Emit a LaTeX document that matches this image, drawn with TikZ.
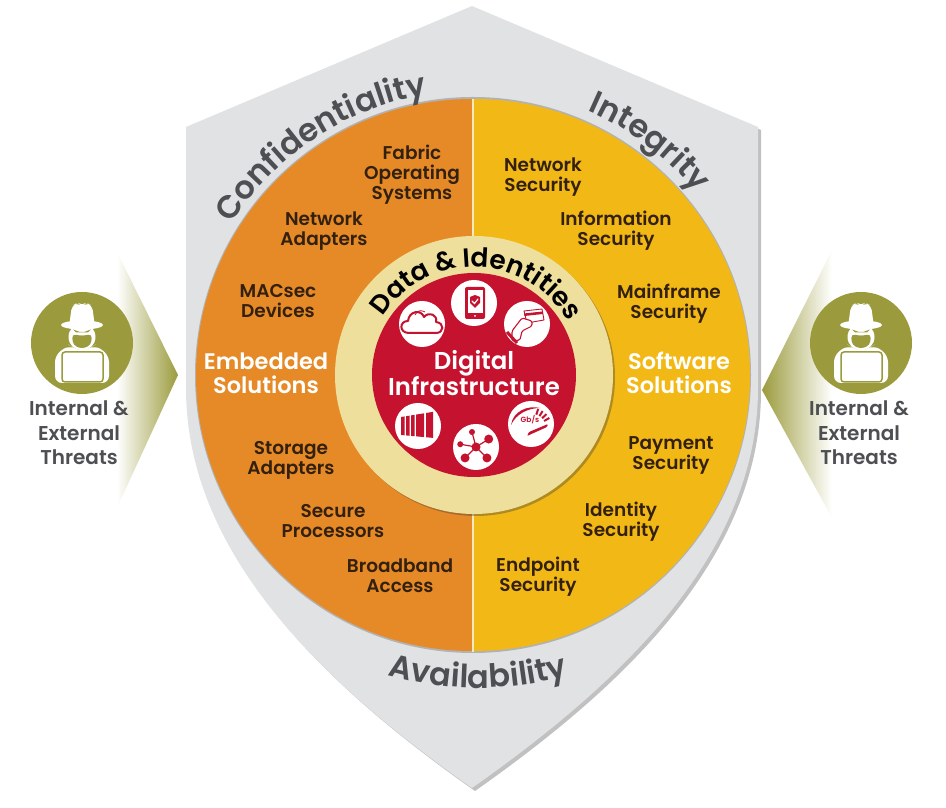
\documentclass[tikz,border=0pt]{standalone}
\usepackage{fontspec}
\setmainfont{Poppins}[UprightFont=* Medium,BoldFont=* SemiBold]
\usetikzlibrary{decorations.text,shadows}

\definecolor{shieldgray}{HTML}{E1E2E4}
\definecolor{sidetext}{HTML}{4D4F53}
\definecolor{orangehalf}{HTML}{E58A27}
\definecolor{yellowhalf}{HTML}{F2B916}
\definecolor{beigering}{HTML}{EFDF9C}
\definecolor{corered}{HTML}{C4122F}
\definecolor{threatolive}{HTML}{9B9B3D}
\definecolor{labeldark}{HTML}{33200F}

\newcommand{\wordfont}{\bfseries\fontsize{32}{32}\selectfont}
\newcommand{\availfont}{\bfseries\fontsize{32}{32}\selectfont}
\newcommand{\datafont}{\bfseries\fontsize{26.4}{26.4}\selectfont}

\tikzset{
  lbl/.style={align=center, text=labeldark, font=\bfseries\fontsize{18.5}{20}\selectfont, inner sep=0pt},
  sollbl/.style={align=center, text=white, font=\bfseries\fontsize{22.5}{24}\selectfont, inner sep=0pt},
  threatlbl/.style={align=center, text=sidetext, font=\bfseries\fontsize{20}{24.5}\selectfont, inner sep=0pt},
  iconbg/.style={circle, fill=white, minimum size=46pt, inner sep=0pt},
  redline/.style={draw=corered, line width=2pt, line join=round, line cap=round},
  hacker/.pic={
    \fill[threatolive] (0,0) circle (51);
    \fill[white, rounded corners=5pt] (-13,16) -- (-10,38) -- (-4,40) -- (0,37) -- (4,40) -- (10,38) -- (13,16) -- cycle;
    \fill[white] (0,18) ellipse (21 and 4.5);
    \fill[white] (0,6) circle (13.5);
    \fill[threatolive] (-9,13.5) -- (-2,11) -- (2,11) -- (9,13.5) -- (6,10.5) -- (-6,10.5) -- cycle;
    \fill[threatolive, rounded corners=4pt] (-10,9) -- (0,7) -- (10,9) -- (9,-2) -- (0,-6) -- (-9,-2) -- cycle;
    \fill[white, rounded corners=7pt] (-27,-40) -- (-27,-12) -- (-13,-2) -- (-8,-5) -- (0,-9) -- (8,-5) -- (13,-2) -- (27,-12) -- (27,-40) -- cycle;
    \fill[white, draw=threatolive, line width=1.5pt, rounded corners=3pt] (-20,-39) rectangle (21,-9);
  }
}

\begin{document}
\begin{tikzpicture}[x=1pt, y=1pt]
\useasboundingbox (0,0) rectangle (946,808);

% Threat arrows
\shade[left color=white, middle color=threatolive!25, right color=threatolive] (117,556) -- (178,433) -- (117,300) -- cycle;
\shade[right color=white, middle color=threatolive!25, left color=threatolive] (832,558) -- (762,418) -- (832,290) -- cycle;

% Shield
\fill[shieldgray, drop shadow={shadow xshift=3pt, shadow yshift=-3pt, opacity=0.35, fill=black!70}]
  (472,802) -- (758,681) -- (758,420) .. controls (758,250) and (614,120) .. (472,20)
  .. controls (330,120) and (186,250) .. (186,420) -- (186,681) -- cycle;

% Halves
\fill[black!30] (473,433) circle (278);
\fill[orangehalf] (472,709) arc (90:270:276) -- cycle;
\fill[yellowhalf] (474,709) arc (90:-90:276) -- cycle;
\fill[beigering!70!white] (472,156) rectangle (474,709);

% Ring and core
\fill[beigering, drop shadow={shadow xshift=2pt, shadow yshift=-2pt, opacity=0.35, fill=black!80}] (474,433) circle (139);
\fill[corered] (474,433) circle (102);

% Curved words
\path[decorate, decoration={text along path, text align=center, text color=sidetext,
  text={|\wordfont|Confidentiality}}]
  (473,432) ++(163:285) arc (163:84:285);
\path[decorate, decoration={text along path, text align=center, text color=sidetext,
  text={|\wordfont|Integrity}}]
  (473,432) ++(73:289) arc (73:33:289);
\path[decorate, decoration={text along path, text align=center, text color=sidetext,
  text={|\availfont|Availability}}]
  (478,450) ++(240:330) arc (240:300:330);
\path[decorate, decoration={text along path, text align=center, text color=black,
  text={|\datafont|Data {\&} Identities}}]
  (474,433) ++(165:108) arc (165:12:108);

% Icons
\node[iconbg] (phoneicon) at (474,505) {};
\node[iconbg] (cloudicon) at (422,484) {};
\node[iconbg] (cardicon) at (527,484) {};
\node[iconbg] (racksicon) at (418,382) {};
\node[iconbg] (hubicon) at (476,361) {};
\node[iconbg] (gaugeicon) at (531,384) {};

% Phone
\fill[corered, rounded corners=2pt] (465,489) rectangle (485,521);
\fill[white] (467.5,495) rectangle (482.5,518);
\fill[white] (475,492) circle (1);
\fill[corered] (470,511) -- (475,513) -- (480,511) -- (480,505) -- (475,500) -- (470,505) -- cycle;
\draw[white, line width=1.2pt, line cap=round] (472,507) -- (474.5,504.5) -- (478,509);

% Cloud
\draw[redline] (409,475) .. controls (399,475) and (399,487) .. (408,487)
  .. controls (409,497) and (421,499) .. (424,491)
  .. controls (429,497) and (438,493) .. (436,486)
  .. controls (445,485) and (444,475) .. (436,475) -- cycle;
\draw[corered, line width=0.8pt] (415,493) .. controls (417,498) and (422,498) .. (425,496);

% Card and hand
\draw[corered, line width=0.9pt, line join=round] (524,497) -- (542,499) -- (544,488) -- (527,485) -- cycle;
\fill[corered] (524,494.5) -- (542.5,496.5) -- (543,494) -- (524.5,492) -- cycle;
\fill[white, draw=corered, line width=1.1pt, line join=round, rounded corners=1.5pt]
  (512,477) -- (522,490) -- (532,487) -- (532,482) -- (522,477) -- (520,468) -- (512,467) -- cycle;
\draw[corered, line width=3pt] (507,476) -- (517,465);

% Racks
\foreach \xa/\xb in {401/404.5, 406/409.5, 411/414.5, 416/424, 426/433}
  \fill[corered] (\xa,{373-(\xa-401)*0.09}) -- (\xb,{373-(\xb-401)*0.09})
    -- (\xb,{391+(\xb-401)*0.16}) -- (\xa,{391+(\xa-401)*0.16}) -- cycle;

% Hub
\foreach \ha/\hr in {105/15.5, 32/15, -45/15.5, -135/15.5, 170/16}
  \draw[corered, line width=1.2pt] (476,361) -- ++(\ha:\hr);
\foreach \ha/\hr/\hs in {105/15.5/3, 32/15/4.5, -45/15.5/4.5, -135/15.5/4.5, 170/16/3}
  \fill[corered] (476,361) ++(\ha:\hr) circle (\hs);
\fill[corered] (476,361) circle (4.5);

% Gauge
\fill[corered] (511,383) .. controls (513,397) and (528,403) .. (540,400)
  .. controls (528,400) and (516,394) .. (511,383) -- cycle;
\foreach \ga in {72,58,44,30}
  \draw[corered, line width=2pt] (532,380) ++(\ga:14) -- ++(\ga:6);
\node[text=corered, font=\bfseries\fontsize{7.5}{7.5}\selectfont, inner sep=0pt] (gbsunit) at (530,388) {Gb/s};
\fill[corered, rounded corners=1pt] (527,372) -- (529,376) -- (548,384) -- (547,381) -- cycle;

% Core label
\node[sollbl, font=\bfseries\fontsize{24.4}{24.5}\selectfont] (corelabel) at (474,435) {Digital\\Infrastructure};

% Left side labels
\node[lbl] (fabricos) at (412,633) {Fabric\\Operating\\Systems};
\node[lbl] (netadapters) at (324,577) {Network\\Adapters};
\node[lbl] (macsec) at (278,507) {MACsec\\Devices};
\node[sollbl] (embedded) at (266,435) {Embedded\\Solutions};
\node[lbl] (storage) at (291,348) {Storage\\Adapters};
\node[lbl] (processors) at (333,287) {Secure\\Processors};
\node[lbl] (broadband) at (400,232) {Broadband\\Access};

% Right side labels
\node[lbl] (netsecurity) at (543,631) {Network\\Security};
\node[lbl] (infosecurity) at (616,577) {Information\\Security};
\node[lbl] (mainframe) at (669,504) {Mainframe\\Security};
\node[sollbl] (software) at (679,435) {Software\\Solutions};
\node[lbl] (payment) at (671,353) {Payment\\Security};
\node[lbl] (identity) at (621,286) {Identity\\Security};
\node[lbl] (endpoint) at (538,231) {Endpoint\\Security};

% Threats
\pic at (82,465) {hacker};
\pic at (861,465) {hacker};
\node[threatlbl] (threatleft) at (79,375) {Internal \&\\External\\Threats};
\node[threatlbl] (threatright) at (859,375) {Internal \&\\External\\Threats};
\end{tikzpicture}
\end{document}
